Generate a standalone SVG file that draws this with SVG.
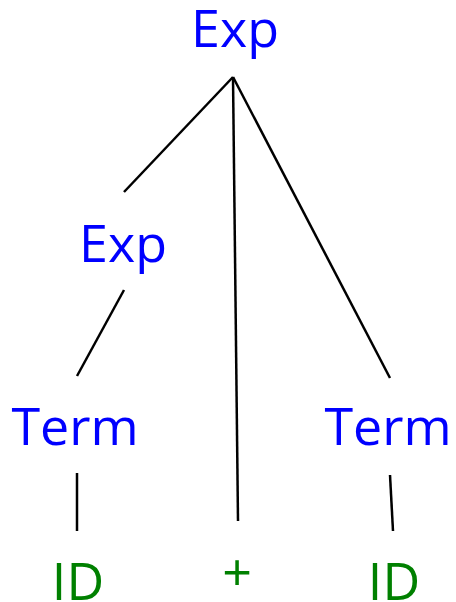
<svg xmlns="http://www.w3.org/2000/svg" width="456" height="602" viewBox="0 0 456 602">
<style>
.nt{font-family:"Open Sans","Noto Sans",sans-serif;font-size:52px;fill:#0000FF;text-anchor:middle}
.t{font-family:"Open Sans","Noto Sans",sans-serif;font-size:52px;fill:#008000;text-anchor:middle}
.e{stroke:#000;stroke-width:2.5;fill:none}
</style>
<rect width="456" height="602" fill="#fff"/>
<g id="connectors">
<line class="e" x1="233" y1="77" x2="124" y2="192"/>
<line class="e" x1="233" y1="77" x2="238" y2="521"/>
<line class="e" x1="233" y1="77" x2="390" y2="378"/>
<line class="e" x1="124" y1="290" x2="77" y2="376"/>
<line class="e" x1="77" y1="473" x2="77" y2="531"/>
<line class="e" x1="390" y1="475" x2="393" y2="531"/>
</g>
<g id="exp-root"><text class="nt" x="235" y="47">Exp</text></g>
<g id="exp-left"><text class="nt" x="123" y="262">Exp</text></g>
<g id="term-left"><text class="nt" x="75" y="445">Term</text></g>
<g id="term-right"><text class="nt" x="388" y="445">Term</text></g>
<g id="id-left"><text class="t" x="78" y="600">ID</text></g>
<g id="plus"><text class="t" x="237" y="591">+</text></g>
<g id="id-right"><text class="t" x="394" y="600">ID</text></g>
</svg>
